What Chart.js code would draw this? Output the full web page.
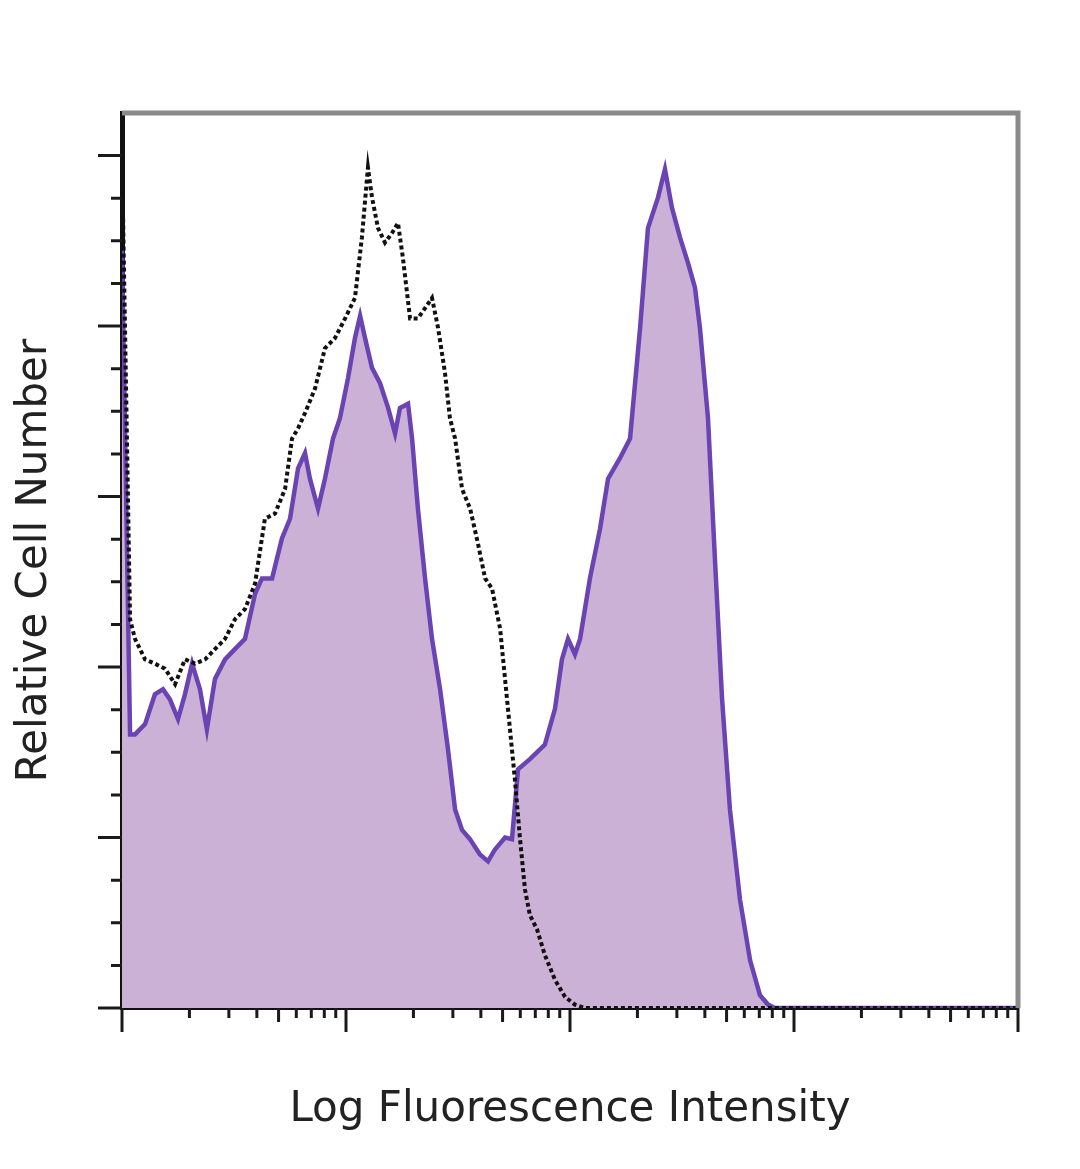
<!DOCTYPE html>
<html>
<head>
<meta charset="utf-8">
<script src="https://cdn.jsdelivr.net/npm/chart.js@4.4.1/dist/chart.umd.min.js"></script>
<style>
  html, body { margin: 0; padding: 0; background: #fff; }
  #wrap { width: 1080px; height: 1169px; }
</style>
</head>
<body>
<div id="wrap"><canvas id="histChart" width="1080" height="1169"></canvas></div>
<script>
// x = log decade of fluorescence (0..4), y = relative cell number
const stainedX = [0.000, 0.036, 0.058, 0.103, 0.147, 0.183, 0.214, 0.250, 0.281, 0.313, 0.348, 0.379, 0.415, 0.460, 0.504, 0.549, 0.594, 0.625, 0.670, 0.714, 0.750, 0.786, 0.817, 0.839, 0.875, 0.906, 0.942, 0.973, 1.009, 1.040, 1.063, 1.085, 1.116, 1.152, 1.188, 1.219, 1.241, 1.277, 1.295, 1.321, 1.353, 1.384, 1.420, 1.455, 1.487, 1.518, 1.554, 1.598, 1.634, 1.665, 1.710, 1.741, 1.768, 1.821, 1.888, 1.933, 1.964, 1.991, 2.022, 2.045, 2.089, 2.134, 2.170, 2.223, 2.268, 2.313, 2.348, 2.393, 2.424, 2.455, 2.491, 2.527, 2.558, 2.580, 2.616, 2.647, 2.679, 2.714, 2.759, 2.804, 2.848, 2.884, 2.915, 4.000];
const stainedY = [89.2, 32.1, 32.1, 33.3, 36.8, 37.4, 36.2, 33.9, 36.8, 40.4, 37.4, 32.7, 38.6, 40.9, 42.1, 43.3, 48.6, 50.4, 50.4, 55.1, 57.4, 63.3, 65.1, 62.1, 58.6, 62.1, 66.8, 69.2, 73.9, 78.6, 81.2, 78.6, 75.1, 73.3, 70.4, 67.4, 70.4, 70.9, 66.8, 58.6, 50.4, 43.3, 37.4, 30.4, 23.3, 20.9, 19.8, 18.0, 17.2, 18.6, 20.0, 19.8, 28.0, 29.2, 30.9, 35.1, 40.9, 43.3, 41.5, 43.3, 50.4, 56.2, 62.1, 64.5, 66.8, 79.8, 91.5, 95.1, 98.4, 93.9, 90.4, 87.4, 84.5, 79.8, 69.2, 52.7, 36.2, 23.3, 12.7, 5.6, 1.5, 0.4, 0, 0];

const controlX = [0.000, 0.036, 0.058, 0.103, 0.147, 0.192, 0.237, 0.281, 0.326, 0.371, 0.415, 0.460, 0.504, 0.549, 0.594, 0.638, 0.683, 0.728, 0.759, 0.786, 0.817, 0.862, 0.906, 0.951, 0.996, 1.040, 1.071, 1.098, 1.116, 1.143, 1.174, 1.205, 1.232, 1.254, 1.286, 1.321, 1.353, 1.384, 1.411, 1.442, 1.464, 1.487, 1.518, 1.554, 1.589, 1.621, 1.652, 1.688, 1.710, 1.732, 1.754, 1.777, 1.799, 1.821, 1.853, 1.888, 1.933, 1.978, 2.022, 2.067, 4.000];
const controlY = [100.0, 45.6, 43.3, 40.9, 40.4, 39.8, 38.0, 40.9, 40.4, 40.9, 42.1, 43.3, 45.6, 46.8, 49.8, 57.4, 58.0, 60.9, 66.8, 68.0, 69.8, 72.7, 77.4, 78.6, 80.9, 83.3, 90.4, 98.6, 95.1, 91.5, 89.8, 90.9, 92.1, 88.0, 80.9, 80.9, 82.1, 83.3, 79.8, 74.5, 69.2, 66.8, 60.9, 58.6, 54.5, 50.4, 49.2, 44.5, 38.6, 32.7, 26.8, 19.8, 13.9, 10.9, 9.2, 6.2, 3.3, 1.3, 0.4, 0, 0];

const xDecades = [0, 1, 2, 3, 4];
const yMajorTicks = [0, 20, 40, 60, 80, 100];
const yMinorStep = 5;

function toPoints(xs, ys) {
    return xs.map(function(x, i) { return { x: x, y: ys[i] }; });
}

// tick marks and the grey frame, drawn through the scales
const axisMarks = {
    id: 'axisMarks',
    afterDraw: function(chart) {
        const c = chart.ctx;
        const xs = chart.scales.x;
        const ys = chart.scales.y;
        const area = chart.chartArea;
        c.save();
        c.strokeStyle = '#1a1a1a';
        c.lineWidth = 3;
        c.beginPath();
        xDecades.forEach(function(d) {
            const px = xs.getPixelForValue(d);
            c.moveTo(px, area.bottom);
            c.lineTo(px, area.bottom + 24);
            if (d < xDecades[xDecades.length - 1]) {
                for (let k = 2; k <= 9; k++) {
                    const mx = xs.getPixelForValue(d + Math.log10(k));
                    c.moveTo(mx, area.bottom);
                    c.lineTo(mx, area.bottom + (k === 5 ? 14 : 10));
                }
            }
        });
        for (let v = 0; v <= 100; v += yMinorStep) {
            const py = ys.getPixelForValue(v);
            const len = yMajorTicks.indexOf(v) >= 0 ? 24 : 11;
            c.moveTo(area.left, py);
            c.lineTo(area.left - len, py);
        }
        c.stroke();

        c.strokeStyle = '#8a8a8a';
        c.lineWidth = 5;
        c.beginPath();
        c.moveTo(area.left, area.top);
        c.lineTo(area.right, area.top);
        c.lineTo(area.right, area.bottom);
        c.stroke();
        c.restore();
    }
};

const ctx = document.getElementById('histChart').getContext('2d');
const histChart = new Chart(ctx, {
    type: 'line',
    data: {
        datasets: [{
            label: 'Isotype control',
            data: toPoints(controlX, controlY),
            borderColor: '#111111',
            borderWidth: 4,
            borderDash: [4, 3],
            fill: false,
            pointRadius: 0,
            tension: 0,
            order: 0
        }, {
            label: 'Stained',
            data: toPoints(stainedX, stainedY),
            borderColor: '#6a44b2',
            backgroundColor: '#ccb1d7',
            borderWidth: 4.5,
            fill: 'origin',
            pointRadius: 0,
            tension: 0,
            order: 1
        }]
    },
    options: {
        responsive: false,
        animation: false,
        layout: { padding: { top: 113, right: 62, left: 0, bottom: 0 } },
        plugins: {
            legend: { display: false },
            tooltip: { enabled: false }
        },
        scales: {
            x: {
                type: 'linear',
                min: 0,
                max: 4,
                grid: { display: false },
                border: { display: true, color: '#111111', width: 4 },
                ticks: { display: false },
                title: {
                    display: true,
                    text: 'Log Fluorescence Intensity',
                    color: '#222222',
                    font: { family: 'DejaVu Sans', size: 42 },
                    padding: { top: 0, bottom: 34 }
                },
                afterFit: function(scale) { scale.height = 161; }
            },
            y: {
                min: 0,
                max: 105,
                grid: { display: false },
                border: { display: true, color: '#111111', width: 5 },
                ticks: { display: false },
                title: {
                    display: true,
                    text: 'Relative Cell Number',
                    color: '#222222',
                    font: { family: 'DejaVu Sans', size: 42 },
                    padding: { top: 10, bottom: 0 }
                },
                afterFit: function(scale) { scale.width = 122; }
            }
        }
    },
    plugins: [axisMarks]
});
</script>
</body>
</html>
